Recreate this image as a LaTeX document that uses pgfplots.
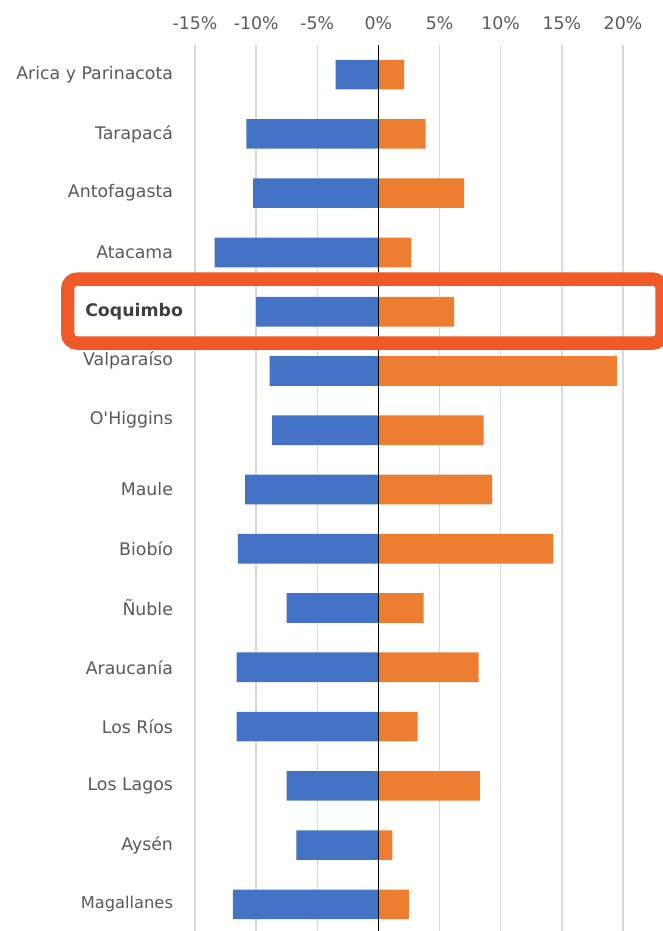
\documentclass[border=0pt]{standalone}
\usepackage{pgfplots}
\pgfplotsset{compat=1.18}
\usepackage{fontspec}
\setmainfont{DejaVu Sans}
\newfontfamily\nomapfont{DejaVu Sans}[Ligatures=TeXOff]
\definecolor{barblue}{HTML}{4472C4}
\definecolor{barorange}{HTML}{ED7D31}
\definecolor{labgray}{HTML}{595959}
\definecolor{darkgray}{HTML}{404040}
\definecolor{gridgray}{HTML}{D9D9D9}
\definecolor{hilite}{HTML}{F05A28}
\begin{document}
\begin{tikzpicture}
\begin{axis}[
  at={(0,0)}, anchor=south west,
  scale only axis,
  width=321pt, height=666.75pt,
  xmin=-15, xmax=20,
  ymin=-0.5, ymax=14.5,
  y dir=reverse,
  clip=false,
  axis line style={draw=none},
  tick style={draw=none},
  xmajorgrids, major grid style={gridgray, line width=1.1pt},
  xtick={-15,-10,-5,0,5,10,15,20},
  xticklabels={-15\%,-10\%,-5\%,0\%,5\%,10\%,15\%,20\%},
  xticklabel pos=upper,
  xticklabel style={font=\fontsize{13}{15}\selectfont, text=labgray, yshift=7.75pt},
  ytick={0,...,14},
  yticklabels={Arica y Parinacota, Tarapacá, Antofagasta, Atacama, {\textbf{\color{darkgray}Coquimbo}\hspace{-7.5pt}\null}, \raisebox{18pt}{Valparaíso}, \raisebox{18pt}{{\nomapfont O'Higgins}}, Maule, Biobío, Ñuble, Araucanía, Los Ríos, Los Lagos, Aysén, {\fontsize{12.2}{14}\selectfont Magallanes}},
  yticklabel style={font=\fontsize{13}{15}\selectfont, text=labgray, anchor=east, xshift=-13pt},
]
\addplot[xbar, bar width=0.5, bar shift=0pt, fill=barblue, draw=none] coordinates {
(-3.5,0) (-10.8,1) (-10.25,2) (-13.4,3) (-10.0,4) (-8.9,5) (-8.7,6) (-10.9,7) (-11.5,8) (-7.5,9) (-11.6,10) (-11.6,11) (-7.5,12) (-6.7,13) (-11.9,14)};
\addplot[xbar, bar width=0.5, bar shift=0pt, fill=barorange, draw=none] coordinates {
(2.1,0) (3.85,1) (7.0,2) (2.7,3) (6.2,4) (19.5,5) (8.6,6) (9.3,7) (14.3,8) (3.7,9) (8.2,10) (3.2,11) (8.3,12) (1.15,13) (2.5,14)};
\draw[black, line width=1.1pt] (axis cs:0,-0.5) -- (axis cs:0,14.5);
\draw[hilite, line width=10pt, rounded corners=7pt] (axis cs:-25.4,3.45) rectangle (axis cs:23.2,4.53);
\end{axis}
\pgfresetboundingbox
\useasboundingbox (-146.25pt,2.25pt) rectangle (351pt,700.5pt);
\end{tikzpicture}
\end{document}
